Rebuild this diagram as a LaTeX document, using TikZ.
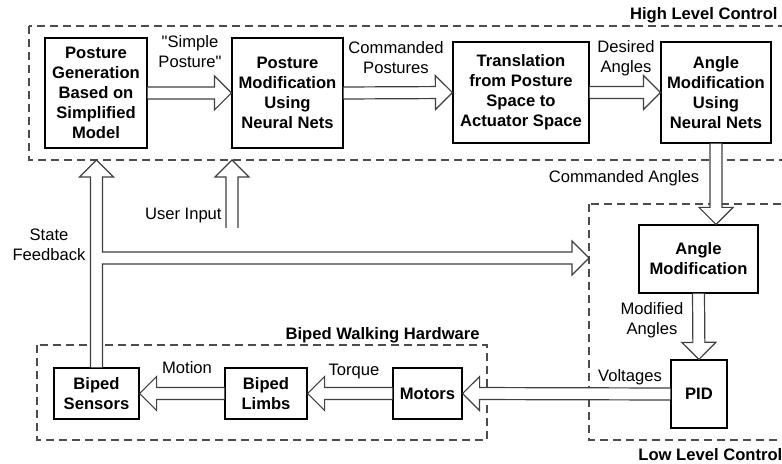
\documentclass[tikz,border=0pt]{standalone}
\usepackage{fontspec}
\setmainfont{Liberation Sans}
\usetikzlibrary{calc}

\newcommand{\fatarrow}[2]{%
	\coordinate (fah) at ($(#2)!8.5pt!(#1)$);
	\draw[blockarr] ($(#1)!3pt!90:(#2)$) -- ($(fah)!3pt!90:(#2)$) -- ($(fah)!8.5pt!90:(#2)$) -- (#2)
		-- ($(fah)!8.5pt!-90:(#2)$) -- ($(fah)!3pt!-90:(#2)$) -- ($(#1)!3pt!-90:(#2)$);
}

\begin{document}
\begin{tikzpicture}[x=0.5pt,y=-0.5pt,
	font=\fontsize{8.3}{10}\selectfont,
	block/.style={draw,line width=0.6pt,fill=white,align=center,inner sep=0pt,font=\fontsize{8.3}{10}\selectfont\bfseries},
	group/.style={draw=black!70,line width=0.6pt,dash pattern=on 4pt off 2.5pt},
	blockarr/.style={draw=black!75,line width=0.6pt,fill=white,line join=miter},
	lbl/.style={align=center,inner sep=0pt}]
					\useasboundingbox (0,0) rectangle (782,464);
					\coordinate (hlnw) at (29,26);
					\coordinate (hlse) at (800,160);
					\coordinate (llnw) at (589,204);
					\coordinate (llse) at (800,440);
					\coordinate (bwnw) at (37,345);
					\coordinate (bwse) at (487,440);
					\draw[group] (hlnw) rectangle (hlse);
					\draw[group] (llnw) rectangle (llse);
					\draw[group] (bwnw) rectangle (bwse);
					\node[lbl,anchor=east,font=\fontsize{8.3}{10}\selectfont\bfseries] (hltxt) at (778,15) {High Level Control};
					\node[lbl,anchor=west,font=\fontsize{8.3}{10}\selectfont\bfseries] (lltxt) at (638,455) {Low Level Control};
					\node[lbl,anchor=east,font=\fontsize{8.3}{10}\selectfont\bfseries] (bwtxt) at (480,335) {Biped Walking Hardware};
					\node[block,minimum width=51pt,minimum height=55pt] (gen) at (96,93) {Posture\\Generation\\Based on\\Simplified\\Model};
					\node[block,minimum width=55.5pt,minimum height=55pt] (pmod) at (287.5,93) {Posture\\Modification\\Using\\Neural Nets};
					\node[block,minimum width=68pt,minimum height=50.5pt] (trans) at (521,92.5) {Translation\\from Posture\\Space to\\Actuator Space};
					\node[block,minimum width=55pt,minimum height=50.5pt] (amnn) at (716,92.5) {Angle\\Modification\\Using\\Neural Nets};
					\node[block,minimum width=59.5pt,minimum height=34pt] (amod) at (698.5,259) {Angle\\Modification};
					\node[block,minimum width=28pt,minimum height=34pt] (pid) at (699,394) {PID};
					\node[block,minimum width=34.5pt,minimum height=25.5pt] (mot) at (427.5,393.5) {Motors};
					\node[block,minimum width=41pt,minimum height=25.5pt] (limbs) at (266,393.5) {Biped\\Limbs};
					\node[block,minimum width=42.5pt,minimum height=25.5pt] (sens) at (96.5,393.5) {Biped\\Sensors};
					\fatarrow{gen.east}{pmod.west}
					\fatarrow{pmod.east}{trans.west}
					\fatarrow{trans.east}{amnn.west}
					\fatarrow{amnn.south}{amnn.south |- amod.north}
					\fatarrow{amod.south}{pid.north}
					\fatarrow{pid.west}{mot.east}
					\fatarrow{mot.west}{limbs.east}
					\fatarrow{limbs.west}{sens.east}
					\coordinate (usr) at (232,228);
					\fatarrow{usr}{usr |- hlse}
					\coordinate (fbtip) at (llnw |- 0,258);
					\draw[blockarr] ($(sens.north)+(-6,0)$) -- ($(sens.north |- hlse)+(-6,17)$) -- ($(sens.north |- hlse)+(-17,17)$)
						-- (sens.north |- hlse) -- ($(sens.north |- hlse)+(17,17)$) -- ($(sens.north |- hlse)+(6,17)$)
						-- ($(sens.north |- fbtip)+(6,-6)$) -- ($(fbtip)+(-17,-6)$) -- ($(fbtip)+(-17,-17)$) -- (fbtip)
						-- ($(fbtip)+(-17,17)$) -- ($(fbtip)+(-17,6)$) -- ($(sens.north |- fbtip)+(6,6)$) -- ($(sens.north)+(6,0)$);
					\node[lbl] (simple) at (190,52) {\textquotedbl Simple\\Posture\textquotedbl};
					\node[lbl] (cmdpos) at (396,58) {Commanded\\Postures};
					\node[lbl] (desang) at (626,58) {Desired\\Angles};
					\node[lbl,anchor=east] (usrtxt) at (222,216) {User Input};
					\node[lbl] (fbtxt) at (49,245) {State\\Feedback};
					\node[lbl] (cmdang) at (624,178) {Commanded Angles};
					\node[lbl] (modang) at (652,320) {Modified\\Angles};
					\node[lbl] (volt) at (630,377) {Voltages};
					\node[lbl] (motion) at (187,368) {Motion};
					\node[lbl] (torque) at (354,372) {Torque};
				\end{tikzpicture}
\end{document}
